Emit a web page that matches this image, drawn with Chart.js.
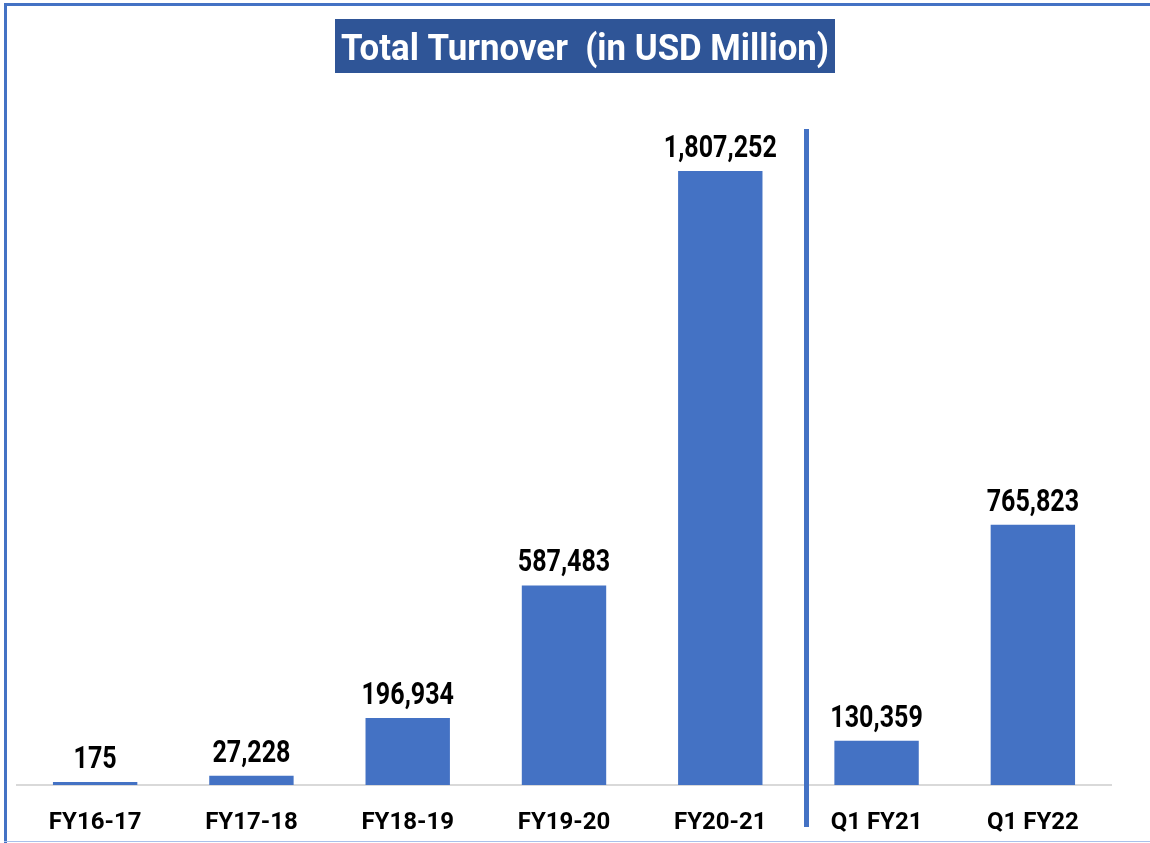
<!DOCTYPE html>
<html>
<head>
<meta charset="utf-8">
<script src="https://cdn.jsdelivr.net/npm/chart.js@4.4.1/dist/chart.umd.min.js"></script>
<style>
  html, body { margin: 0; padding: 0; background: #ffffff; }
  #wrap { position: relative; width: 1150px; height: 843px; overflow: hidden; }
  #frameTop { position: absolute; left: 4px; top: 3px; width: 1146px; height: 3px; background: #4472C4; }
  #frameLeft { position: absolute; left: 4px; top: 3px; width: 3px; height: 840px; background: #4472C4; }
  #frameBottom { position: absolute; left: 4px; top: 841px; width: 1146px; height: 1px; background: #A9C1EA; }
  canvas { position: absolute; left: 0; top: 0; }
</style>
</head>
<body>
<div id="wrap">
  <canvas id="c" width="1150" height="843"></canvas>
  <div id="frameTop"></div>
  <div id="frameLeft"></div>
  <div id="frameBottom"></div>
</div>
<script>
const chartTitle = "Total Turnover  (in USD Million)";
const categories = ["FY16-17", "FY17-18", "FY18-19", "FY19-20", "FY20-21", "Q1 FY21", "Q1 FY22"];
const turnover = [175, 27228, 196934, 587483, 1807252, 130359, 765823];
const valueLabels = ["175", "27,228", "196,934", "587,483", "1,807,252", "130,359", "765,823"];
const separatorAfterIndex = 4;

const FONT = 'Roboto, "Liberation Sans", Arial, sans-serif';

function drawCondensed(ctx, text, x, y, targetWidthRef, refText) {
  const w = ctx.measureText(refText || text).width;
  const s = targetWidthRef / w;
  ctx.save();
  ctx.translate(x, y);
  ctx.scale(Math.min(1, s), 1);
  ctx.fillText(text, 0, 0);
  ctx.restore();
}

const titleBoxPlugin = {
  id: 'titleBox',
  afterDraw(chart) {
    const ctx = chart.ctx;
    ctx.save();
    ctx.fillStyle = '#2F5597';
    ctx.fillRect(335, 19, 500, 54);
    ctx.fillStyle = '#ffffff';
    ctx.font = 'bold 36px ' + FONT;
    ctx.textAlign = 'center';
    ctx.textBaseline = 'alphabetic';
    drawCondensed(ctx, chartTitle, 585, 60, 488);
    ctx.restore();
  }
};

const valueLabelPlugin = {
  id: 'valueLabels',
  afterDatasetsDraw(chart) {
    const ctx = chart.ctx;
    const meta = chart.getDatasetMeta(0);
    ctx.save();
    ctx.fillStyle = '#000000';
    ctx.font = 'bold 31px ' + FONT;
    ctx.textAlign = 'center';
    ctx.textBaseline = 'alphabetic';
    const refW = ctx.measureText('1,807,252').width;
    meta.data.forEach((bar, i) => {
      ctx.save();
      ctx.translate(bar.x, bar.y - 14);
      ctx.scale(113 / refW, 1);
      ctx.fillText(valueLabels[i], 0, 0);
      ctx.restore();
    });
    ctx.restore();
  }
};

const separatorPlugin = {
  id: 'separator',
  afterDatasetsDraw(chart) {
    const xs = chart.scales.x;
    const x = (xs.getPixelForValue(separatorAfterIndex) + xs.getPixelForValue(separatorAfterIndex + 1)) / 2;
    const ctx = chart.ctx;
    ctx.save();
    ctx.fillStyle = '#4472C4';
    ctx.fillRect(Math.round(x) + 6, 129, 5, 698);
    ctx.restore();
  }
};

new Chart(document.getElementById('c'), {
  type: 'bar',
  data: {
    labels: categories,
    datasets: [{
      data: turnover,
      backgroundColor: '#4472C4',
      borderWidth: 0,
      barPercentage: 0.54,
      categoryPercentage: 1.0,
      minBarLength: 3
    }]
  },
  options: {
    responsive: false,
    animation: false,
    events: [],
    layout: { padding: { left: 17, right: 39, top: 100, bottom: 0 } },
    plugins: {
      legend: { display: false },
      title: { display: false },
      tooltip: { enabled: false }
    },
    scales: {
      x: {
        grid: { display: false, drawTicks: false },
        border: { display: true, color: '#D9D9D9', width: 2 },
        ticks: {
          color: '#000000',
          font: { family: FONT, size: 24, weight: 'bold' },
          padding: 24,
          maxRotation: 0
        },
        afterFit(scale) { scale.height = 58; }
      },
      y: {
        display: false,
        min: 0,
        max: 2016000
      }
    }
  },
  plugins: [titleBoxPlugin, valueLabelPlugin, separatorPlugin]
});
</script>
</body>
</html>
